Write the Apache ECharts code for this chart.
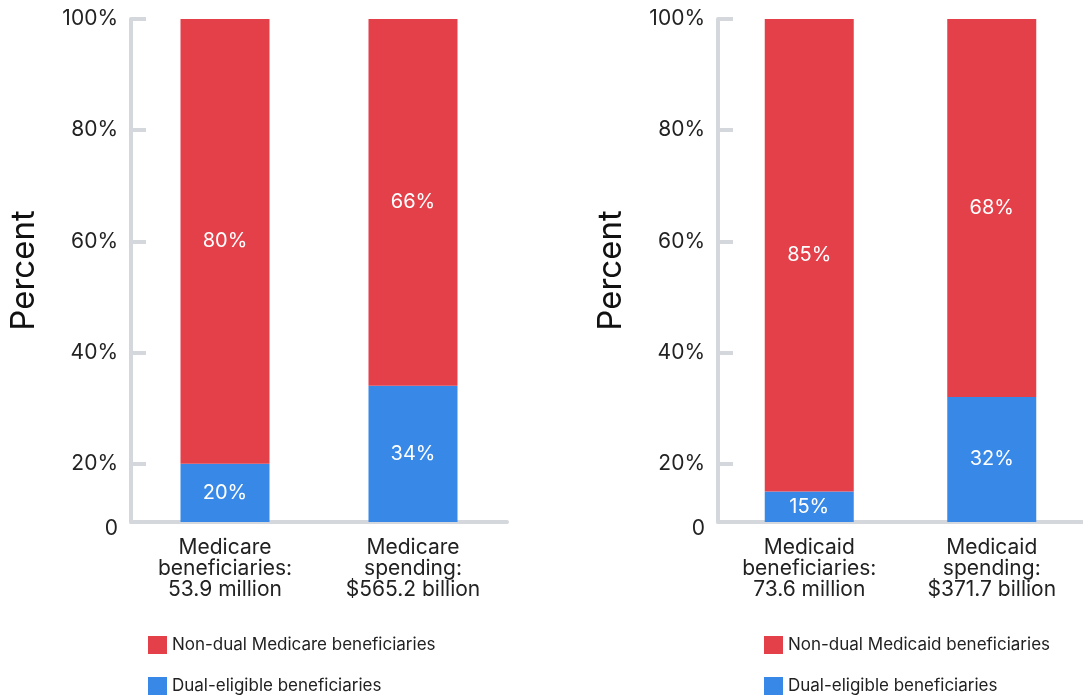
<!DOCTYPE html>
<html>
<head>
<meta charset="utf-8">
<script src="https://cdn.jsdelivr.net/npm/echarts@6/dist/echarts.min.js"></script>
<style>
html, body { margin: 0; padding: 0; background: #ffffff; }
#chart { width: 1083px; height: 696px; }
</style>
</head>
<body>
<div id="chart"></div>
<script>
// data
var leftCategories = ['Medicare\nbeneficiaries:\n53.9 million', 'Medicare\nspending:\n$565.2 billion'];
var leftDual = [20, 34];
var leftNonDual = [80, 66];
var rightCategories = ['Medicaid\nbeneficiaries:\n73.6 million', 'Medicaid\nspending:\n$371.7 billion'];
var rightDual = [15, 32];
var rightNonDual = [85, 68];
var yTicks = [20, 40, 60, 80, 100];
var axisStart = 9.5; // the axis is drawn broken: its bottom is labelled 0

var red = '#e3404a';
var blue = '#3888e8';
var grey = '#d4d7db';
var font = 'Inter';

var chart = echarts.init(document.getElementById('chart'));

function yAxis(gridIndex) {
    return {
        type: 'value',
        gridIndex: gridIndex,
        min: axisStart,
        max: 100,
        name: 'Percent',
        nameLocation: 'middle',
        nameGap: 90,
        nameTextStyle: { fontSize: 33, color: '#111', fontFamily: font },
        axisLine: { show: true, lineStyle: { color: grey, width: 4 } },
        axisTick: {
            show: true, inside: true, length: 15,
            lineStyle: { color: grey, width: 4 },
            customValues: yTicks
        },
        axisLabel: {
            fontSize: 21, color: '#222', fontFamily: font, margin: 13,
            customValues: [axisStart].concat(yTicks),
            formatter: function (v) { return v === axisStart ? '{z|0}' : v + '%'; },
            rich: { z: { fontSize: 21, color: '#222', fontFamily: font, padding: [14, 0, 0, 0] } }
        },
        splitLine: { show: false }
    };
}

function xAxis(gridIndex, cats) {
    return {
        type: 'category',
        gridIndex: gridIndex,
        data: cats,
        axisLine: { show: true, lineStyle: { color: grey, width: 4 } },
        axisTick: { show: false },
        axisLabel: {
            fontSize: 21, color: '#222', fontFamily: font, margin: 15,
            lineHeight: 21, interval: 0
        }
    };
}

function barLabel() {
    return {
        show: true, position: 'inside', color: '#fff', fontSize: 20, fontFamily: font,
        formatter: '{c}%'
    };
}

function legend(left, names) {
    return {
        orient: 'vertical', left: left, top: 636, height: 60, padding: 0,
        itemWidth: 19, itemHeight: 18, itemGap: 23, icon: 'rect',
        textStyle: { fontSize: 17, color: '#222', fontFamily: font },
        data: names
    };
}

var option = {
    backgroundColor: '#ffffff',
    animation: false,
    grid: [
        { left: 131, top: 19, width: 376, bottom: 174 },
        { left: 718, top: 19, width: 376, bottom: 174 }
    ],
    legend: [
        legend(148, ['Non-dual Medicare beneficiaries', 'Dual-eligible beneficiaries']),
        legend(764, ['Non-dual Medicaid beneficiaries', 'Dual-eligible beneficiaries'])
    ],
    xAxis: [xAxis(0, leftCategories), xAxis(1, rightCategories)],
    yAxis: [yAxis(0), yAxis(1)],
    series: [{
        name: 'Dual-eligible beneficiaries', type: 'bar', stack: 'left',
        xAxisIndex: 0, yAxisIndex: 0, barWidth: 89,
        itemStyle: { color: blue }, label: barLabel(), data: leftDual
    }, {
        name: 'Non-dual Medicare beneficiaries', type: 'bar', stack: 'left',
        xAxisIndex: 0, yAxisIndex: 0, barWidth: 89,
        itemStyle: { color: red }, label: barLabel(), data: leftNonDual
    }, {
        name: 'Dual-eligible beneficiaries', type: 'bar', stack: 'right',
        xAxisIndex: 1, yAxisIndex: 1, barWidth: 89,
        itemStyle: { color: blue }, label: barLabel(), data: rightDual
    }, {
        name: 'Non-dual Medicaid beneficiaries', type: 'bar', stack: 'right',
        xAxisIndex: 1, yAxisIndex: 1, barWidth: 89,
        itemStyle: { color: red }, label: barLabel(), data: rightNonDual
    }]
};
chart.setOption(option);
</script>
</body>
</html>
